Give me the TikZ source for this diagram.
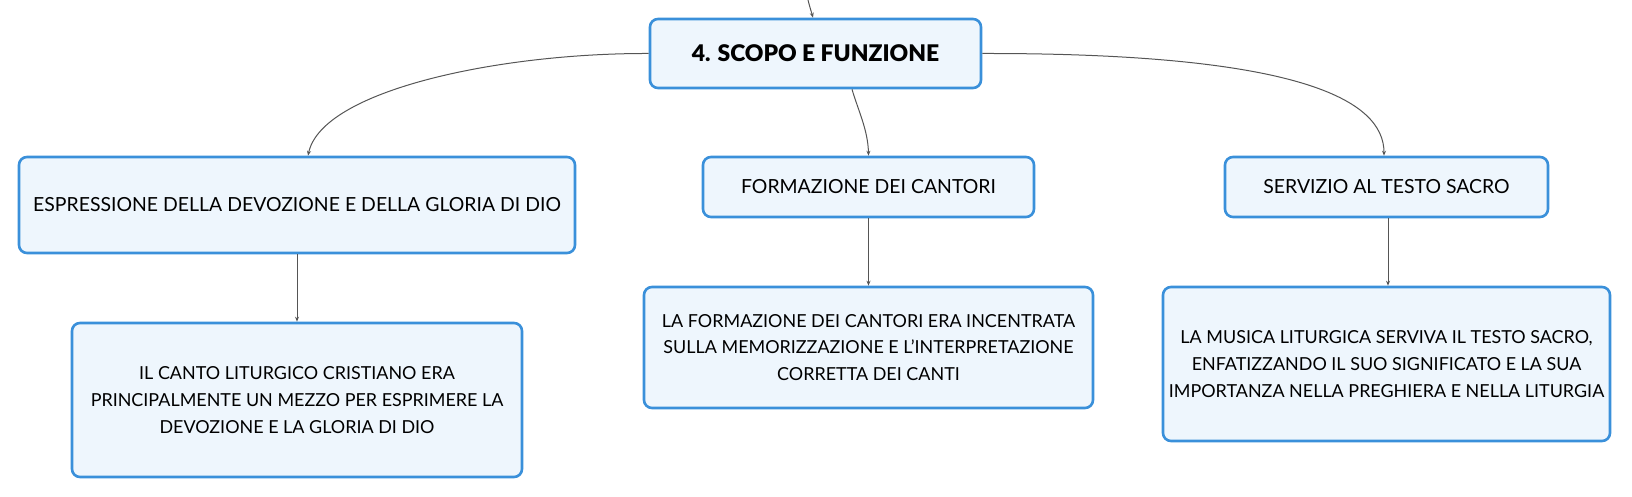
\documentclass[tikz,border=0pt]{standalone}
\usepackage{fontspec}
\setmainfont{Lato}
\newfontfamily\titlefont{Lato Black}
\usetikzlibrary{arrows.meta}
\definecolor{boxborder}{HTML}{3A90DA}
\definecolor{boxfill}{HTML}{EEF6FD}
\definecolor{linkgray}{HTML}{555555}
\begin{document}
\begin{tikzpicture}[x=1bp,y=-1bp,
  box/.style={draw=boxborder,fill=boxfill,line width=2.6bp,rounded corners=8bp,
    inner sep=0pt,align=center,text=black},
  mainbox/.style={box,font=\fontsize{23}{28}\selectfont\titlefont},
  subbox/.style={box,font=\fontsize{19.5}{24}\selectfont},
  leafbox/.style={box,font=\fontsize{18}{26.7}\selectfont},
  link/.style={draw=linkgray,line width=1bp,-{Stealth[length=5bp,width=4bp]}}]
\useasboundingbox (0,0) rectangle (1632,497);
\node[mainbox,minimum width=331bp,minimum height=69bp] (top) at (815.5,53.5) {4. SCOPO E FUNZIONE};
\node[subbox,minimum width=556bp,minimum height=96bp] (a) at (297,205) {ESPRESSIONE DELLA DEVOZIONE E DELLA GLORIA DI DIO};
\node[subbox,minimum width=331bp,minimum height=60bp] (b) at (868.5,187) {FORMAZIONE DEI CANTORI};
\node[subbox,minimum width=323bp,minimum height=60bp] (c) at (1386.5,187) {SERVIZIO AL TESTO SACRO};
\node[leafbox,minimum width=450bp,minimum height=154bp] (a1) at (297,400) {IL CANTO LITURGICO CRISTIANO ERA\\PRINCIPALMENTE UN MEZZO PER ESPRIMERE LA\\DEVOZIONE E LA GLORIA DI DIO};
\node[leafbox,minimum width=449bp,minimum height=121bp] (b1) at (868.5,347.5) {LA FORMAZIONE DEI CANTORI ERA INCENTRATA\\SULLA MEMORIZZAZIONE E L'INTERPRETAZIONE\\CORRETTA DEI CANTI};
\node[leafbox,minimum width=447bp,minimum height=154bp] (c1) at (1386.5,364) {LA MUSICA LITURGICA SERVIVA IL TESTO SACRO,\\ENFATIZZANDO IL SUO SIGNIFICATO E LA SUA\\IMPORTANZA NELLA PREGHIERA E NELLA LITURGIA};
\coordinate (in) at (808,0);
\draw[link] (in) .. controls (810,8) and (812,14) .. (top.north -| 813,0);
\draw[link] (top.west) .. controls (500,53) and (322,90) .. (a.north -| 308,0);
\draw[link] (top.east) .. controls (1300,53) and (1384,100) .. (c.north -| 1384,0);
\draw[link] (top.south -| 852,0) .. controls (858,110) and (868,130) .. (b.north);
\draw[link] (a.south) -- (a1.north);
\draw[link] (b.south) -- (b1.north);
\draw[link] (c.south -| 1388,0) -- (c1.north -| 1388,0);
\end{tikzpicture}
\end{document}
